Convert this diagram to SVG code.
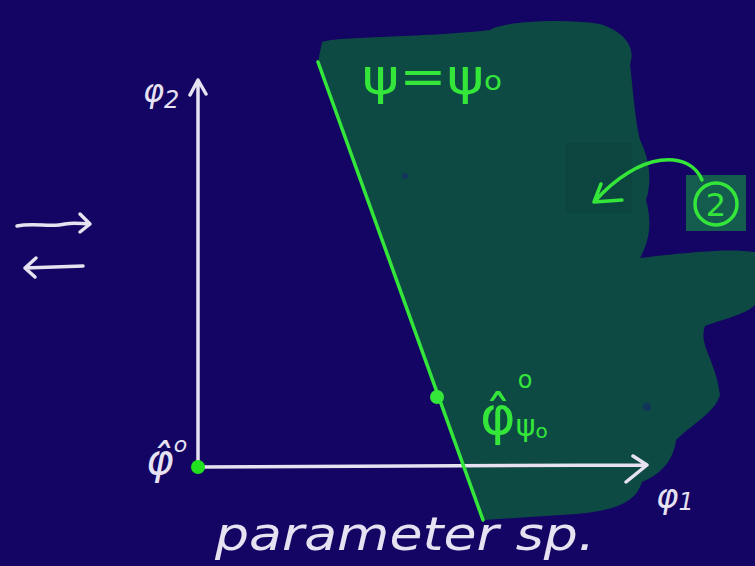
<svg xmlns="http://www.w3.org/2000/svg" width="755" height="566" viewBox="0 0 755 566">
<style>
.w{fill:none;stroke:#e6e2f2;stroke-width:3.5;stroke-linecap:round;stroke-linejoin:round}
.g{fill:none;stroke:#35e63a;stroke-width:3.5;stroke-linecap:round;stroke-linejoin:round}
.tw{fill:#e6e2f2;font-family:"DejaVu Sans",sans-serif;font-style:italic}
.tg{fill:#35e63a;font-family:"DejaVu Sans",sans-serif}
</style>
<rect width="755" height="566" fill="#140463"/>
<g id="region">
<path fill="#0e4a44" d="M318 62 L322 42 C340 36 420 38 490 30 C500 22 560 18 600 24 C625 32 636 48 630 64 C633 90 635 120 640 140 C650 160 652 182 646 200 C652 222 650 240 640 258 C690 252 730 248 755 252 L755 305 C745 315 720 320 705 326 C698 345 716 360 720 395 C715 412 695 422 676 440 C674 460 660 475 642 482 C636 500 622 512 560 515 L484 520 Z"/>
<rect x="566" y="143" width="66" height="70" fill="#0c4440"/>
<rect x="686" y="175" width="60" height="56" fill="#145c4e"/>
<circle cx="405" cy="176" r="3" fill="#12345a"/>
<circle cx="647" cy="407" r="4" fill="#12345a"/>
</g>
<g id="axes">
<path class="w" d="M198 468 L198 80 M190 95 L198 80 L206 94"/>
<path class="w" d="M198 467 L647 465 M626 482 L647 465 L633 456"/>
<text class="tw" x="143" y="102" font-size="32">φ<tspan font-size="24" dy="6">2</tspan></text>
<text class="tw" x="656" y="508" font-size="34">φ<tspan font-size="24" dy="2">1</tspan></text>
<text class="tw" x="146" y="474" font-size="42">φ̂<tspan font-size="22" dy="-22">o</tspan></text>
</g>
<g id="constraint">
<path class="g" d="M318 62 L483 520"/>
<circle cx="198" cy="467" r="7" fill="#20e020"/>
<circle cx="437" cy="397" r="7" fill="#35e63a"/>
<text class="tg" x="362" y="94" font-size="50" textLength="140" lengthAdjust="spacingAndGlyphs">ψ=ψ<tspan font-size="26" dy="-4">o</tspan></text>
<text class="tg" x="480" y="434" font-size="54">φ̂<tspan font-size="30" dy="2">ψ</tspan><tspan font-size="20" dy="2">o</tspan><tspan font-size="24" dx="-30" dy="-50">o</tspan></text>
</g>
<g id="label2">
<path class="g" d="M702 180 C690 150 640 150 594 202 M601 184 L594 202 L622 200"/>
<circle cx="716" cy="204" r="21" class="g"/>
<text class="tg" x="716" y="216" font-size="32" text-anchor="middle">2</text>
</g>
<g id="arrows">
<path class="w" d="M17 226 C35 222 50 228 65 224 C75 222 82 224 90 224 M80 214 L90 224 L80 232"/>
<path class="w" d="M83 266 L25 268 M36 258 L25 268 L35 277"/>
</g>
<text class="tw" x="215" y="550" font-size="46" textLength="380" lengthAdjust="spacingAndGlyphs">parameter sp.</text>
</svg>
